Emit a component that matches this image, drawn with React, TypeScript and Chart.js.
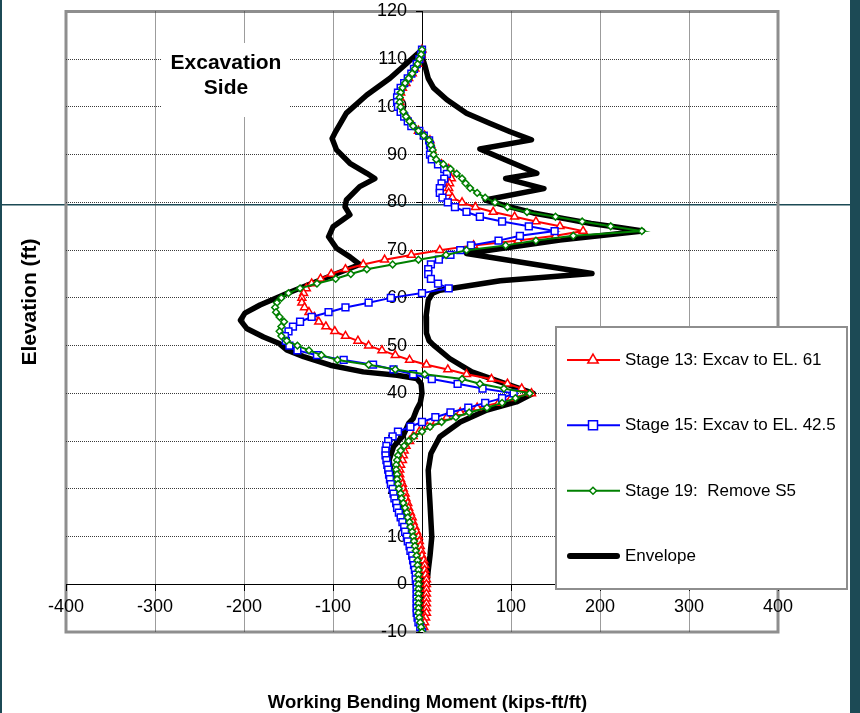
import React, { useEffect, useRef } from 'react';
import { Chart, registerables } from 'chart.js';

Chart.register(...registerables);

// ---------- data ----------
const ELEVATION = [
  112, 111, 110, 109, 108, 107, 106, 105, 104, 103,
  102, 101, 100, 99, 98, 97, 96, 95, 94, 93,
  92, 91, 90, 89, 88, 87, 86, 85, 84, 83,
  82, 81, 80, 79, 78, 77, 76, 75, 74, 73,
  72, 71, 70, 69, 68, 67, 66, 65, 64, 63,
  62, 61, 60, 59, 58, 57, 56, 55, 54, 53,
  52, 51, 50, 49, 48, 47, 46, 45, 44, 43,
  42, 41, 40, 39, 38, 37, 36, 35, 34, 33,
  32, 31, 30, 29, 28, 27, 26, 25, 24, 23,
  22, 21, 20, 19, 18, 17, 16, 15, 14, 13,
  12, 11, 10, 9, 8, 7, 6, 5, 4, 3,
  2, 1, 0, -1, -2, -3, -4, -5, -6, -7,
  -8, -9, -10,
];

const STAGE13 = [
  0, -1, -3, -5, -8, -11, -15, -18, -22, -24,
  -25, -25, -24, -21, -18, -14, -10, -4, 3, 9,
  10, 11, 12, 15, 22, 30, 35, 33, 31, 30,
  30, 34, 45, 60, 80, 104, 128, 155, 181, 150,
  108, 58, 20, -12, -42, -66, -86, -102, -114, -124,
  -130, -133, -135, -135, -132, -127, -121, -116, -108, -98,
  -86, -72, -60, -45, -30, -14, 5, 29, 50, 78,
  96, 112, 123, 100, 86, 62, 43, 28, 16, 6,
  -3, -10, -14, -18, -20, -21, -22, -24, -25, -25,
  -24, -22, -21, -19, -18, -16, -15, -13, -11, -10,
  -8, -6, -4, -3, -2, -1, 0, 2, 3, 3,
  4, 5, 5, 5, 5, 5, 5, 5, 5, 4,
  3, 2, 0,
];

const STAGE15 = [
  0, -1, -3, -6, -9, -12, -16, -20, -24, -27,
  -28, -28, -27, -24, -20, -16, -12, -3, 2, 8,
  9, 10, 9, 11, 18, 25, 28, 25, 22, 20,
  20, 23, 29, 37, 50, 65, 90, 120, 149, 110,
  86, 55, 43, 32, 19, 10, 7, 7, 10, 18,
  30, 0, -35, -60, -86, -105, -124, -137, -145, -150,
  -154, -153, -149, -140, -118, -88, -55, -32, -10, 11,
  40, 68, 103, 90, 71, 52, 32, 15, 0, -13,
  -27, -33, -38, -40, -41, -41, -40, -39, -38, -37,
  -36, -35, -33, -32, -31, -29, -28, -26, -24, -22,
  -20, -19, -17, -16, -14, -13, -11, -10, -9, -8,
  -7, -7, -6, -6, -6, -6, -6, -6, -6, -5,
  -4, -2, 0,
];

const STAGE19 = [
  0, -1, -3, -5, -8, -11, -15, -19, -22, -24,
  -25, -25, -24, -21, -18, -14, -10, -4, 2, 8,
  10, 12, 13, 16, 24, 32, 39, 45, 49, 54,
  62, 71, 82, 96, 118, 150, 180, 212, 247, 170,
  128, 94, 50, 27, -4, -33, -62, -80, -97, -118,
  -137, -150, -158, -163, -165, -164, -160, -155, -158, -160,
  -158, -152, -140, -127, -113, -95, -60, -30, 3, 45,
  65, 92, 121, 105, 90, 73, 53, 38, 22, 9,
  0, -9, -15, -20, -24, -27, -28, -29, -29, -28,
  -28, -27, -26, -24, -23, -21, -19, -17, -16, -14,
  -13, -11, -10, -9, -8, -7, -6, -5, -5, -4,
  -4, -4, -4, -4, -4, -4, -4, -4, -4, -3,
  -2, -1, 0,
];

// Envelope: maximum side (top to bottom), then minimum side (bottom to top)
const ENVELOPE_MOMENT = [
  0, 1, 3.5, 7, 13, 28, 50, 76, 99, 123,
  65, 129, 94, 137, 71, 100, 125, 160, 190, 220,
  248, 155, 50, 191, 88, 20, 12, 7, 4.5, 5,
  8, 13, 31, 56, 88, 110, 125, 106, 73, 43,
  20, 10, 7, 8, 9, 11, 9, 7, 3.5, 1.5,
  0, 0, -2, -8, -19, -28.5, -32, -35, -37, -32,
  -21, -15, -10, -6, -2, 0, -1, -6, -28, -66,
  -103, -133, -152, -161, -178, -197, -204, -199, -182, -152,
  -115, -70, -81, -96, -105, -100, -81, -86.5, -85, -70,
  -53, -62, -81, -96, -101, -98, -85, -62, -36, 0,
];
const ENVELOPE_ELEVATION = [
  112, 110, 108.5, 106, 104, 101.5, 98.7, 96.6, 94.8, 93.1,
  91.2, 86.1, 85, 82.9, 80.5, 79, 77.8, 76.6, 75.6, 74.8,
  74, 72.1, 69.3, 65.1, 63.6, 61.6, 61, 59.5, 56, 52.6,
  51, 50.1, 47.3, 44.5, 42.4, 41, 40, 38.2, 36.5, 34,
  30.9, 27.4, 23.9, 20, 16.9, 9.9, 6, 2.9, -4, -10,
  -10, 0, 5, 9.9, 15.5, 20.4, 22, 24, 26, 28.8,
  31.2, 33.7, 34.7, 36.6, 38, 40, 42, 43.1, 43.8, 44.5,
  45.9, 47.7, 49.1, 50.5, 51.8, 53.6, 55.3, 56.8, 58.5, 60.9,
  63.7, 67, 68.6, 70.4, 72.8, 74.9, 77.4, 79.1, 80.5, 83.3,
  85, 86.1, 88.2, 91, 93.4, 94.5, 98.7, 102.5, 106, 112,
];

const SERIES_LABELS = [
  'Stage 13: Excav to EL. 61',
  'Stage 15: Excav to EL. 42.5',
  'Stage 19:  Remove S5',
  'Envelope',
];
const X_AXIS_TITLE = 'Working Bending Moment (kips-ft/ft)';
const Y_AXIS_TITLE = 'Elevation (ft)';
const NOTE_LINES = ['Excavation', 'Side'];

// ---------- styles ----------
const RED = '#ff0000';
const BLUE = '#0000ff';
const GREEN = '#008000';
const BLACK = '#000000';
const TEAL = '#1c4a55';
const FONT = '"Liberation Sans", Arial, sans-serif';
const GRID = '#3a3a3a';

function toPoints(ms: number[], es: number[]) {
  return ms.map((m, i) => ({ x: m, y: es[i] }));
}

function drawMarker(ctx: CanvasRenderingContext2D, kind: string, x: number, y: number, r: number, color: string) {
  ctx.save();
  ctx.beginPath();
  if (kind === 'triangle') {
    const c = Math.cos(Math.PI / 6) * r;
    ctx.moveTo(x, y - r);
    ctx.lineTo(x + c, y + r / 2);
    ctx.lineTo(x - c, y + r / 2);
    ctx.closePath();
  } else if (kind === 'rect') {
    ctx.rect(x - r, y - r, 2 * r, 2 * r);
  } else {
    ctx.moveTo(x, y - r);
    ctx.lineTo(x + r, y);
    ctx.lineTo(x, y + r);
    ctx.lineTo(x - r, y);
    ctx.closePath();
  }
  ctx.fillStyle = '#ffffff';
  ctx.fill();
  ctx.lineWidth = 1.5;
  ctx.strokeStyle = color;
  ctx.stroke();
  ctx.restore();
}

const decorPlugin = {
  id: 'decor',
  beforeDraw(chart: any) {
    const { ctx, width, height, chartArea: a } = chart;
    ctx.save();
    ctx.fillStyle = '#ffffff';
    ctx.fillRect(0, 0, width, height);
    ctx.fillStyle = TEAL;
    ctx.fillRect(0, 0, 2, height);
    ctx.fillRect(850, 0, width - 850, height);
    ctx.fillRect(0, 204, 850, 1.5);
    // plot frame
    ctx.strokeStyle = '#8e8e8e';
    ctx.lineWidth = 3;
    ctx.strokeRect(a.left, a.top, a.right - a.left, a.bottom - a.top);
    ctx.restore();
  },
  afterDraw(chart: any) {
    const { ctx } = chart;
    ctx.save();
    // note box
    ctx.fillStyle = '#ffffff';
    ctx.fillRect(162, 43, 128, 74);
    ctx.fillStyle = '#000000';
    ctx.font = `bold 21px ${FONT}`;
    ctx.textAlign = 'center';
    ctx.textBaseline = 'alphabetic';
    ctx.fillText(NOTE_LINES[0], 226, 69);
    ctx.fillText(NOTE_LINES[1], 226, 94);

    // axis titles
    ctx.font = `bold 18.5px ${FONT}`;
    ctx.fillText(X_AXIS_TITLE, 427.5, 708);
    ctx.save();
    ctx.translate(36, 302);
    ctx.rotate(-Math.PI / 2);
    ctx.font = `bold 21px ${FONT}`;
    ctx.fillText(Y_AXIS_TITLE, 0, 0);
    ctx.restore();

    // legend
    ctx.fillStyle = '#ffffff';
    ctx.fillRect(556, 327, 291, 262);
    ctx.strokeStyle = '#8e8e8e';
    ctx.lineWidth = 2;
    ctx.strokeRect(556, 327, 291, 262);
    const rows = [360, 425.3, 490.7, 556];
    const colors = [RED, BLUE, GREEN, BLACK];
    const kinds = ['triangle', 'rect', 'rectRot', ''];
    const sizes = [6, 4.5, 3.5, 0];
    rows.forEach((y, i) => {
      ctx.save();
      ctx.strokeStyle = colors[i];
      ctx.lineWidth = i === 3 ? 6 : 2;
      ctx.lineCap = i === 3 ? 'round' : 'butt';
      ctx.beginPath();
      ctx.moveTo(i === 3 ? 570 : 567, y);
      ctx.lineTo(i === 3 ? 617 : 620, y);
      ctx.stroke();
      ctx.restore();
      if (kinds[i]) drawMarker(ctx, kinds[i], 593, y, sizes[i], colors[i]);
      ctx.fillStyle = '#000000';
      ctx.font = `17px ${FONT}`;
      ctx.textAlign = 'left';
      ctx.textBaseline = 'middle';
      ctx.fillText(SERIES_LABELS[i], 625, y + 0.5);
    });
    ctx.restore();
  },
};

const zeroPadding = (scale: any) => {
  scale.paddingTop = 0;
  scale.paddingBottom = 0;
  scale.paddingLeft = 0;
  scale.paddingRight = 0;
};

export default function App() {
  const ref = useRef<HTMLCanvasElement>(null);
  useEffect(() => {
    if (!ref.current) return;
    const gridColorX = (c: any) => {
      const v = c.tick ? c.tick.value : null;
      return v === -400 || v === 400 || v === 0 ? 'rgba(0,0,0,0)' : GRID;
    };
    const gridColorY = (c: any) => {
      const v = c.tick ? c.tick.value : null;
      return v === -10 || v === 120 || v === 0 ? 'rgba(0,0,0,0)' : GRID;
    };
    const chart = new Chart(ref.current, {
      type: 'scatter',
      data: {
        datasets: [
          {
            label: SERIES_LABELS[0],
            data: toPoints(STAGE13, ELEVATION),
            showLine: true,
            borderColor: RED,
            borderWidth: 2,
            backgroundColor: '#ffffff',
            pointStyle: 'triangle',
            pointRadius: 4.6,
            pointBorderWidth: 1.5,
            pointBorderColor: RED,
            pointBackgroundColor: '#ffffff',
            tension: 0,
            order: 3,
          },
          {
            label: SERIES_LABELS[1],
            data: toPoints(STAGE15, ELEVATION),
            showLine: true,
            borderColor: BLUE,
            borderWidth: 2,
            backgroundColor: '#ffffff',
            pointStyle: 'rect',
            pointRadius: 4.8,
            pointBorderWidth: 1.5,
            pointBorderColor: BLUE,
            pointBackgroundColor: '#ffffff',
            tension: 0,
            order: 2,
          },
          {
            label: SERIES_LABELS[2],
            data: toPoints(STAGE19, ELEVATION),
            showLine: true,
            borderColor: GREEN,
            borderWidth: 2,
            backgroundColor: '#ffffff',
            pointStyle: 'rectRot',
            pointRadius: 3.4,
            pointBorderWidth: 1.5,
            pointBorderColor: GREEN,
            pointBackgroundColor: '#ffffff',
            tension: 0,
            order: 1,
          },
          {
            label: SERIES_LABELS[3],
            data: toPoints(ENVELOPE_MOMENT, ENVELOPE_ELEVATION),
            showLine: true,
            borderColor: BLACK,
            borderWidth: 5.5,
            borderJoinStyle: 'round',
            borderCapStyle: 'round',
            pointRadius: 0,
            tension: 0,
            order: 4,
          },
        ] as any,
      },
      options: {
        responsive: false,
        devicePixelRatio: 1,
        animation: false,
        events: [],
        layout: { padding: { left: 66, right: 82, top: 11.5, bottom: 81 } },
        plugins: {
          legend: { display: false },
          tooltip: { enabled: false },
          title: { display: false },
        },
        scales: {
          x: {
            type: 'linear',
            position: { y: 0 } as any,
            min: -400,
            max: 400,
            afterFit: zeroPadding,
            ticks: {
              stepSize: 100,
              autoSkip: false,
              maxRotation: 0,
              padding: 6,
              color: '#000',
              font: { family: FONT, size: 18 },
              callback: (v: any) => (v === 0 ? '' : String(v)),
            },
            grid: {
              color: gridColorX,
              lineWidth: 1,
              tickLength: 6,
              tickColor: '#000',
              tickWidth: 1,
              tickBorderDash: [],
            },
            border: { display: true, color: '#000', width: 1, dash: [1, 1] },
          },
          y: {
            type: 'linear',
            position: { x: 0 } as any,
            min: -10,
            max: 120,
            afterFit: zeroPadding,
            ticks: {
              stepSize: 10,
              autoSkip: false,
              color: '#000',
              font: { family: FONT, size: 18 },
              callback: (v: any) => String(v) + '   ',
            },
            grid: {
              color: gridColorY,
              lineWidth: 1,
              tickLength: 6,
              tickColor: '#000',
              tickWidth: 1,
              tickBorderDash: [],
            },
            border: { display: true, color: '#000', width: 1, dash: [1, 1] },
          },
        },
      } as any,
      plugins: [decorPlugin],
    });
    return () => chart.destroy();
  }, []);
  return (
    <div style={{ position: 'absolute', left: 0, top: 0, width: 860, height: 713 }}>
      <canvas ref={ref} width={860} height={713} style={{ display: 'block', width: 860, height: 713 }} />
    </div>
  );
}
